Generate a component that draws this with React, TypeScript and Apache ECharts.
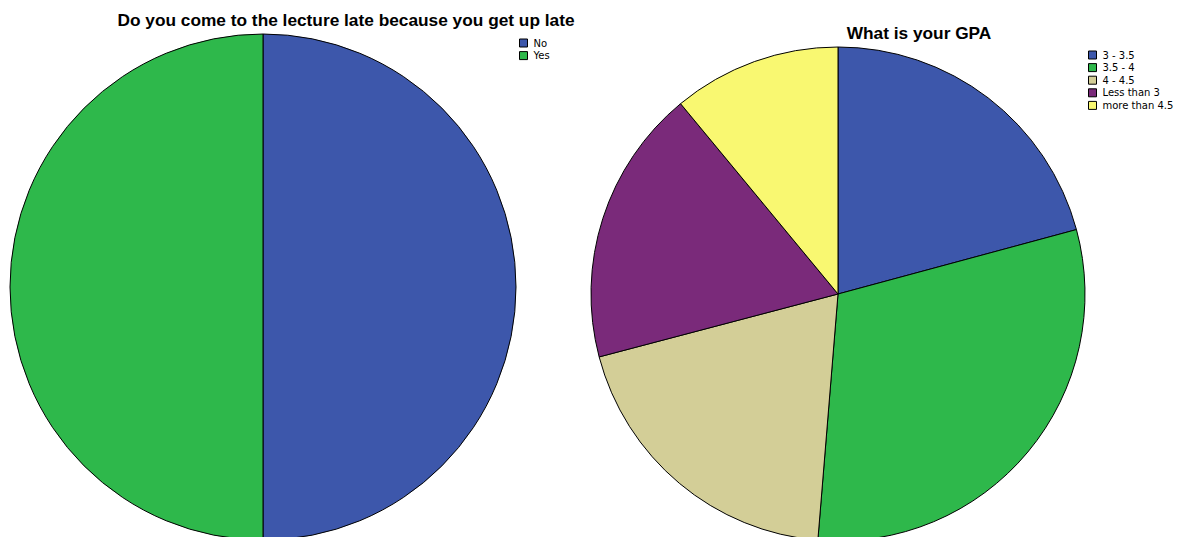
import React, { useEffect, useRef } from "react";
import * as echarts from "echarts";

const lateCategories = ["No", "Yes"];
const lateValues = [50, 50];
const lateColors = ["#3D57AB", "#2EB84B"];

const gpaCategories = ["3 - 3.5", "3.5 - 4", "4 - 4.5", "Less than 3", "more than 4.5"];
const gpaValues = [20.8, 30.5, 19.6, 18.1, 11.0];
const gpaColors = ["#3D57AB", "#2EB84B", "#D3CE97", "#7A2A7A", "#F9F871"];

const titleLeft = "Do you come to the lecture late because you get up late";
const titleRight = "What is your GPA";

export default function App() {
  const ref = useRef<HTMLDivElement>(null);
  useEffect(() => {
    document.body.style.margin = "0";
    const chart = echarts.init(ref.current!, null, { renderer: "svg" });
    const font = "'Liberation Sans', Arial, sans-serif";
    const legendCommon = {
      orient: "vertical",
      icon: "rect",
      itemWidth: 8,
      itemHeight: 8,
      itemGap: 2.6,
      selectedMode: false,
      padding: 0,
      textStyle: {
        fontSize: 10,
        color: "#000",
        fontFamily: "'DejaVu Sans', sans-serif",
        padding: [0, 0, 0, 1],
        lineHeight: 10,
      },
      itemStyle: { borderColor: "#000", borderWidth: 1 },
    };
    chart.setOption({
      animation: false,
      backgroundColor: "#fff",
      title: [
        {
          text: titleLeft,
          left: 346,
          top: 11,
          textAlign: "center",
          padding: 0,
          textStyle: { fontSize: 17.3, fontWeight: "bold", color: "#000", fontFamily: font },
        },
        {
          text: titleRight,
          left: 919,
          top: 24,
          textAlign: "center",
          padding: 0,
          textStyle: { fontSize: 17.3, fontWeight: "bold", color: "#000", fontFamily: font },
        },
      ],
      legend: [
        { ...legendCommon, left: 519, top: 38, data: lateCategories },
        { ...legendCommon, left: 1088, top: 50, data: gpaCategories },
      ],
      series: [
        {
          type: "pie",
          center: [263, 287],
          radius: 253,
          startAngle: 90,
          clockwise: true,
          label: { show: false },
          labelLine: { show: false },
          emphasis: { disabled: true },
          silent: true,
          itemStyle: { borderColor: "#000", borderWidth: 1 },
          data: lateCategories.map((n, i) => ({ name: n, value: lateValues[i], itemStyle: { color: lateColors[i] } })),
        },
        {
          type: "pie",
          center: [838, 294],
          radius: 247,
          startAngle: 90,
          clockwise: true,
          label: { show: false },
          labelLine: { show: false },
          emphasis: { disabled: true },
          silent: true,
          itemStyle: { borderColor: "#000", borderWidth: 1 },
          data: gpaCategories.map((n, i) => ({ name: n, value: gpaValues[i], itemStyle: { color: gpaColors[i] } })),
        },
      ],
    });
    return () => chart.dispose();
  }, []);
  return <div ref={ref} style={{ width: 1179, height: 537 }} />;
}
